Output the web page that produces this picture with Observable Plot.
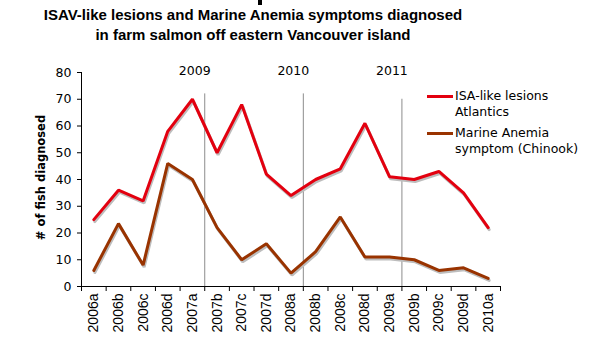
<!DOCTYPE html>
<html>
<head>
<meta charset="utf-8">
<script src="https://cdn.jsdelivr.net/npm/d3@7"></script>
<script src="https://cdn.jsdelivr.net/npm/@observablehq/plot@0.6"></script>
<style>
  html, body { margin: 0; padding: 0; background: #fff; }
  #wrap { position: relative; width: 593px; height: 353px; overflow: hidden; }
  #title { position: absolute; left: 0; width: 506px; top: 5px; text-align: center;
           font-family: "Liberation Sans", sans-serif; font-weight: bold; font-size: 15px; line-height: 20px; color: #000; }
  #mark { position: absolute; left: 258px; top: 0; width: 4px; height: 5px; background: #000; }
  .leg { position: absolute; font-family: "DejaVu Sans", sans-serif; font-size: 12.5px; line-height: 16px; color: #000; }
  .sw { position: absolute; height: 3px; width: 26px; }
</style>
</head>
<body>
<div id="wrap">
  <div id="chart"></div>
  <div id="title">ISAV-like lesions and Marine Anemia symptoms diagnosed<br>in farm salmon off eastern Vancouver island</div>
  <div id="mark"></div>
  <div class="sw" style="left:427px; top:95px; background:#e3000f;"></div>
  <div class="leg" style="left:455px; top:88px;">ISA-like lesions<br>Atlantics</div>
  <div class="sw" style="left:427px; top:132px; background:#993300;"></div>
  <div class="leg" style="left:455px; top:125px;">Marine Anemia<br>symptom (Chinook)</div>
</div>
<script>
const categories = ["2006a","2006b","2006c","2006d","2007a","2007b","2007c","2007d","2008a","2008b","2008c","2008d","2009a","2009b","2009c","2009d","2010a"];
const isaLesions = [25, 36, 32, 58, 70, 50, 68, 42, 34, 40, 44, 61, 41, 40, 43, 35, 22];
const marineAnemia = [6, 23.5, 8, 46, 40, 22, 10, 16, 5, 13, 26, 11, 11, 10, 6, 7, 3];
const yearLabels = ["2009", "2010", "2011"];
const yearBoundaryIndex = [5, 9, 13];
const yearLineTop = [72, 72, 70];
const yTicks = [0, 10, 20, 30, 40, 50, 60, 70, 80];

const rows = (vals, s) => vals.map((v, i) => ({i: i + 0.5, v, s, c: categories[i]}));
const isaRows = rows(isaLesions, "isa");
const maRows = rows(marineAnemia, "ma");
const years = yearLabels.map((t, k) => ({t, x: yearBoundaryIndex[k], top: yearLineTop[k]}));

const plot = Plot.plot({
  width: 593,
  height: 353,
  marginLeft: 81,
  marginRight: 93,
  marginTop: 72,
  marginBottom: 67,
  style: {fontFamily: "DejaVu Sans, sans-serif", fontSize: "12.5px", background: "#fff", color: "#000"},
  x: {domain: [0, categories.length], axis: null},
  y: {domain: [0, 80], axis: null},
  marks: [
    Plot.ruleX(years, {x: "x", y1: 0, y2: "top", stroke: "#8c8c8c", strokeWidth: 1}),
    Plot.text(years, {x: "x", y: 80, text: "t", dx: -10, dy: -2, fontSize: 12.5, fill: "#000"}),
    Plot.line(isaRows, {x: "i", y: "v", stroke: "#bdbdbd", strokeWidth: 3, dx: 1, dy: 2, strokeLinejoin: "miter"}),
    Plot.line(maRows, {x: "i", y: "v", stroke: "#bdbdbd", strokeWidth: 3, dx: 1, dy: 2, strokeLinejoin: "miter"}),
    Plot.line(isaRows, {x: "i", y: "v", stroke: "#e3000f", strokeWidth: 3, strokeLinejoin: "miter"}),
    Plot.line(maRows, {x: "i", y: "v", stroke: "#993300", strokeWidth: 3, strokeLinejoin: "miter"}),
    Plot.ruleY([0], {stroke: "#000", strokeWidth: 1}),
    Plot.ruleX([0], {y1: 0, y2: 80, stroke: "#000", strokeWidth: 1}),
    Plot.axisY({ticks: yTicks, tickSize: 4, tickPadding: 6, fontSize: 12.5, label: null}),
    Plot.axisX({ticks: d3.range(categories.length + 1), tickSize: 5, tickFormat: () => "", label: null}),
    Plot.text(categories, {x: (d, i) => i + 0.5, y: 0, text: d => d, rotate: -90, textAnchor: "end", dy: 7,
      fontFamily: "Liberation Sans, sans-serif", fontSize: 14, fill: "#000"}),
    Plot.text(["# of fish diagnosed"], {frameAnchor: "left", textAnchor: "middle", dx: -40, dy: -2, rotate: -90, text: d => d,
      fontWeight: "bold", fontSize: 11.5, fill: "#000"})
  ]
});
document.getElementById("chart").appendChild(plot);
</script>
</body>
</html>
